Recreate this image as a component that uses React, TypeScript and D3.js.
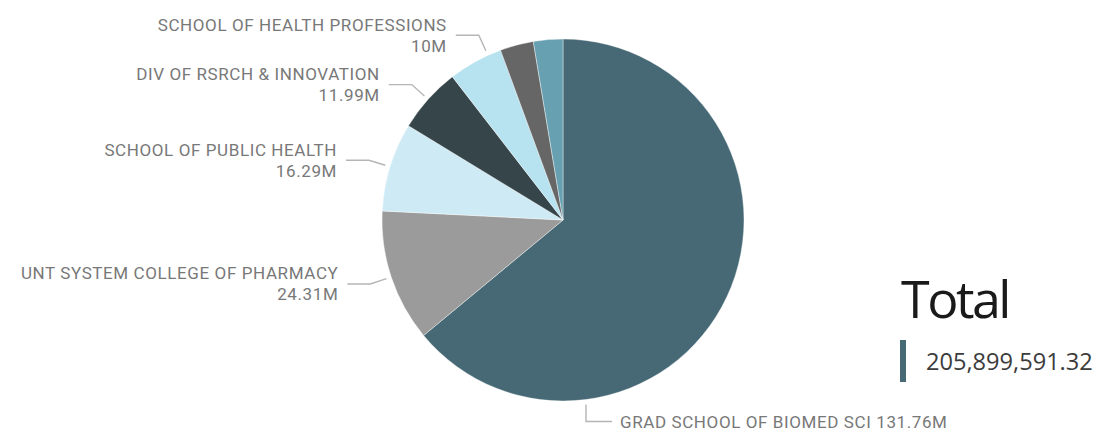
import { useEffect, useRef } from "react";
import * as d3 from "d3";

// slice order follows the visual: clockwise from 12 o'clock
const categories = [
  "GRAD SCHOOL OF BIOMED SCI",
  "UNT SYSTEM COLLEGE OF PHARMACY",
  "SCHOOL OF PUBLIC HEALTH",
  "DIV OF RSRCH & INNOVATION",
  "SCHOOL OF HEALTH PROFESSIONS",
  "OTHER 1",
  "OTHER 2",
];
const values = [131.76, 24.31, 16.29, 11.99, 10.0, 6.15, 5.4];
const valueLabels = ["131.76M", "24.31M", "16.29M", "11.99M", "10M", "", ""];
const colors = ["#466975", "#9b9b9b", "#cdeaf5", "#36454a", "#b7e2f0", "#666666", "#67a0b1"];
const totalTitle = "Total";
const totalValue = "205,899,591.32";

interface Slice {
  name: string;
  value: number;
  label: string;
  color: string;
}

export default function App() {
  const svgRef = useRef<SVGSVGElement>(null);

  useEffect(() => {
    if (!svgRef.current) return;
    const width = 1099;
    const height = 432;
    const cx = 563;
    const cy = 220;
    const radius = 181;
    const labelFont = "Roboto, 'DejaVu Sans Condensed', sans-serif";

    d3.select(svgRef.current).selectAll("*").remove();
    const svg = d3.select(svgRef.current).attr("width", width).attr("height", height);

    const data: Slice[] = categories.map((c, i) => ({
      name: c,
      value: values[i],
      label: valueLabels[i],
      color: colors[i],
    }));

    const pie = d3.pie<Slice>().sort(null).value((d) => d.value);
    const arcs = pie(data);
    const arc = d3.arc<d3.PieArcDatum<Slice>>().innerRadius(0).outerRadius(radius);

    const g = svg.append("g").attr("transform", `translate(${cx},${cy})`);
    g.selectAll("path")
      .data(arcs)
      .enter()
      .append("path")
      .attr("d", arc)
      .attr("fill", (d) => d.data.color)
      .attr("stroke", "#ffffff")
      .attr("stroke-width", 0.4);

    const polar = (r: number, deg: number) => {
      const a = (deg * Math.PI) / 180;
      return [r * Math.sin(a), -r * Math.cos(a)];
    };

    // label anchors that power bi moved off the slice middle
    const angleOverride: Record<number, number> = { 0: 172.9, 4: 335.5 };

    const labels = svg.append("g").attr("transform", `translate(${cx},${cy})`);
    arcs.forEach((d, i) => {
      if (!d.data.label) return;
      const mid = ((d.startAngle + d.endAngle) / 2) * (180 / Math.PI);
      const deg = angleOverride[i] ?? mid;
      const [x0, y0] = polar(radius + 5, deg);
      if (i === 0) {
        // bottom label, single line to the right
        const x1 = x0;
        const y1 = y0 + 17;
        const x2 = x1 + 26;
        labels
          .append("path")
          .attr("d", `M${x0},${y0}L${x1},${y1}L${x2},${y1}`)
          .attr("fill", "none")
          .attr("stroke", "#b5b5b5")
          .attr("stroke-width", 1.4);
        labels
          .append("text")
          .attr("x", x2 + 8)
          .attr("y", y1)
          .attr("dominant-baseline", "central")
          .attr("font-family", labelFont)
          .attr("font-size", 17)
          .attr("letter-spacing", 0.6)
          .attr("fill", "#787878")
          .text(`${d.data.name} ${d.data.label}`);
        return;
      }
      const [x1, y1] = polar(radius + 22, deg);
      const x2 = x1 - 23;
      labels
        .append("path")
        .attr("d", `M${x0},${y0}L${x1},${y1}L${x2},${y1}`)
        .attr("fill", "none")
        .attr("stroke", "#b5b5b5")
        .attr("stroke-width", 1.4);
      const t = labels
        .append("text")
        .attr("text-anchor", "end")
        .attr("font-family", labelFont)
        .attr("font-size", 17)
        .attr("letter-spacing", 0.6)
        .attr("fill", "#787878");
      t.append("tspan")
        .attr("x", x2 - 9)
        .attr("y", y1 - 10.5)
        .attr("dominant-baseline", "central")
        .text(d.data.name);
      t.append("tspan")
        .attr("x", x2 - 9)
        .attr("y", y1 + 10.5)
        .attr("dominant-baseline", "central")
        .text(d.data.label);
    });

    // card with total
    const card = svg.append("g");
    card
      .append("text")
      .attr("x", 901)
      .attr("y", 318)
      .attr("font-family", "'Open Sans', sans-serif")
      .attr("font-size", 52)
      .attr("letter-spacing", -2.5)
      .attr("fill", "#1a1a1a")
      .text(totalTitle);
    card
      .append("rect")
      .attr("x", 900)
      .attr("y", 340)
      .attr("width", 6)
      .attr("height", 42)
      .attr("fill", colors[0]);
    card
      .append("text")
      .attr("x", 926)
      .attr("y", 361)
      .attr("dominant-baseline", "central")
      .attr("font-family", "'Open Sans', sans-serif")
      .attr("font-size", 23.6)
      .attr("fill", "#3c3c3c")
      .text(totalValue);
  }, []);

  return (
    <svg
      ref={svgRef}
      style={{ position: "absolute", left: 0, top: 0, display: "block" }}
    />
  );
}
